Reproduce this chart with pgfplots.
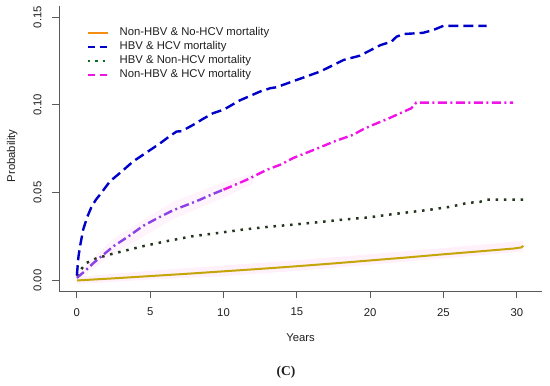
\documentclass[border=0pt]{standalone}
\usepackage{pgfplots}
\pgfplotsset{compat=1.18}
\usepackage{fontspec}
\setmainfont{Liberation Sans}
\newfontfamily\serifC{Liberation Serif}
\definecolor{goldl}{RGB}{196,166,8}
\definecolor{orangeleg}{RGB}{245,140,20}
\definecolor{blueL}{RGB}{0,0,200}
\definecolor{greenL}{RGB}{35,55,30}
\definecolor{greenleg}{RGB}{10,110,30}
\definecolor{magL}{RGB}{240,20,230}
\definecolor{violetL}{RGB}{140,65,230}
\definecolor{bandpink}{RGB}{255,240,250}
\definecolor{axgray}{RGB}{90,90,90}
\definecolor{txt}{RGB}{30,30,30}
\begin{document}
\begin{tikzpicture}
\useasboundingbox (0,0) rectangle (550bp,386bp);
\begin{axis}[
  at={(59bp,95bp)}, anchor=south west,
  width=483bp, height=284.5bp, scale only axis,
  xmin=-1.22, xmax=31.72, ymin=-0.006, ymax=0.156,
  axis x line=bottom, axis y line=left,
  axis line style={-, axgray, line width=0.8bp},
  tick style={axgray, line width=0.8bp},
  tick align=outside, major tick length=7bp,
  xtick={0,5,10,15,20,25,30},
  ytick={0,0.05,0.10,0.15},
  yticklabels={0.00,0.05,0.10,0.15},
  /pgf/number format/assume math mode=true,
  font=\fontsize{11.3bp}{13bp}\selectfont,
  ticklabel style={font=\fontsize{11.3bp}{13bp}\selectfont, text=txt},
  xticklabel style={anchor=north, inner sep=0pt, yshift=-10bp},
  yticklabel style={rotate=90, anchor=south, inner sep=0pt, text depth=0pt, yshift=10.5bp},
  xlabel={Years}, ylabel={Probability},
  xlabel style={at={(axis description cs:0.5,-0.165)}, anchor=center, text=txt},
  ylabel style={at={(axis description cs:-0.097,0.475)}, anchor=center, rotate=0, text=txt},
  legend cell align=left,
  legend style={at={(axis description cs:0.05,0.94)}, anchor=north west, draw=none, fill=none,
    font=\fontsize{11.3bp}{13bp}\selectfont, text=txt,
    nodes={inner sep=2bp, text height=8bp, text depth=2bp},
    /tikz/every odd column/.append style={column sep=9bp},
    row sep=0pt},
  legend image code/.code={\draw[#1] (0bp,0bp) -- (20bp,0bp);},
  clip=false,
]
% pink confidence bands
\addplot[fill=bandpink, draw=none, forget plot] coordinates {
 (0,0.002) (5,0.0055) (10,0.0085) (15,0.0115) (20,0.015) (25,0.0185) (30.45,0.0225)
 (30.45,0.0165) (25,0.0125) (20,0.009) (15,0.0055) (10,0.0025) (5,0.0005) (0,-0.002)} -- cycle;
\addplot[fill=bandpink, draw=none, forget plot, fill opacity=0.7] coordinates {
 (0,0.004) (2.5,0.024) (6.57,0.045) (10,0.056) (12,0.061)
 (12,0.055) (10,0.047) (6.57,0.035) (2.5,0.015) (0,0.000)} -- cycle;

\addlegendimage{orangeleg, line width=2bp}
\addlegendentry{Non-HBV \& No-HCV mortality}
\addlegendimage{blueL, line width=2.4bp, dash pattern=on 7bp off 5bp}
\addlegendentry{HBV \& HCV mortality}
\addlegendimage{greenleg, line width=2.4bp, dash pattern=on 2.5bp off 5bp}
\addlegendentry{HBV \& Non-HCV mortality}
\addlegendimage{magL, line width=2.4bp, dash pattern=on 7bp off 5bp}
\addlegendentry{Non-HBV \& HCV mortality}

% Non-HBV & No-HCV
\addplot[goldl, line width=2bp, forget plot] coordinates {
 (0,0) (2.5,0.0012) (5,0.0025) (7.5,0.0038) (10,0.0052) (12.5,0.0066) (15,0.0081)
 (17.5,0.0097) (20,0.0114) (22.5,0.0131) (25,0.0149) (27.5,0.0166) (29.8,0.0182) (30.3,0.0188) (30.45,0.0197)};
% HBV & Non-HCV
\addplot[greenL, line width=2.5bp, dash pattern=on 2.5bp off 5.8bp, forget plot] coordinates {
 (0,0.0025) (0.3,0.0065) (0.66,0.010) (1.3,0.0125) (2.25,0.0148) (3.3,0.017) (4.5,0.0195)
 (6.2,0.0225) (7.9,0.0252) (9.6,0.027) (11.35,0.029) (13,0.0305) (14.75,0.0318)
 (16.5,0.0332) (18.2,0.0347) (19.8,0.0358) (21.3,0.0375) (22.8,0.039) (24.1,0.0403)
 (25.5,0.042) (26.6,0.0441) (27.5,0.0448) (27.95,0.046) (30.45,0.046)};
% Non-HBV & HCV (early part violet)
\addplot[violetL, line width=2.4bp, dash pattern=on 9bp off 3.5bp on 2bp off 3.5bp, forget plot] coordinates {
 (0,0.0015) (0.5,0.005) (1.14,0.010) (2.5,0.0195) (3.5,0.025) (4.5,0.031) (5.5,0.0355)
 (6.57,0.040) (7.5,0.043) (8.4,0.046) (9.2,0.049) (10.0,0.0517)};
\addplot[magL, line width=2.4bp, dash pattern=on 9bp off 3.5bp on 2bp off 3.5bp, forget plot] coordinates {
 (10.0,0.0517) (10.8,0.0545) (11.6,0.0574) (12.95,0.063) (13.9,0.066) (14.75,0.0697) (15.9,0.0735)
 (16.7,0.0762) (17.5,0.079) (18.85,0.083) (19.5,0.086) (20.2,0.0886) (21.3,0.0924) (22.25,0.096)
 (22.8,0.098) (23.15,0.1013) (29.75,0.1013)};
% HBV & HCV
\addplot[blueL, line width=2.4bp, dash pattern=on 10bp off 5bp, forget plot] coordinates {
 (0,0.003) (0.05,0.008) (0.11,0.0138) (0.25,0.021) (0.43,0.029) (0.7,0.036) (1.0,0.042)
 (1.3,0.046) (1.68,0.050) (2.25,0.0564) (3.05,0.062) (3.84,0.0678) (4.86,0.0735)
 (5.66,0.078) (6.3,0.082) (6.8,0.0848) (7.14,0.0850) (7.93,0.0886) (8.6,0.092)
 (9.3,0.0953) (10.0,0.0972) (11.1,0.1025) (12.5,0.1076) (13.2,0.1095) (13.6,0.110)
 (15.0,0.1142) (16.6,0.119) (18.2,0.1256) (19.3,0.128) (20.0,0.131) (20.7,0.134)
 (21.45,0.136) (21.8,0.1388) (22.25,0.1403) (23.6,0.141) (24.3,0.1426) (25.0,0.145) (27.95,0.145)};
\end{axis}
\node[font=\serifC\bfseries\fontsize{13.5bp}{15bp}\selectfont, text=txt] at (286bp,14bp) {(C)};
\end{tikzpicture}
\end{document}
